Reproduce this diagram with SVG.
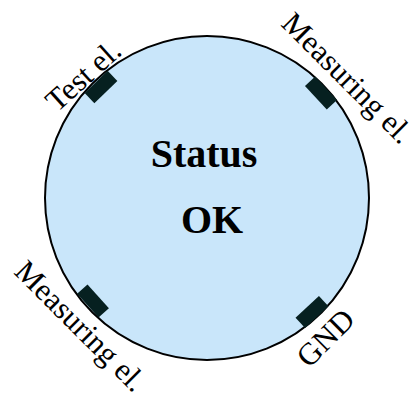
<svg xmlns="http://www.w3.org/2000/svg" width="419" height="398" viewBox="0 0 419 398">
<style>
.lbl{font-family:"Liberation Serif","Times New Roman",serif;font-size:31px;fill:#000}
.big{font-family:"Liberation Serif","Times New Roman",serif;font-size:40px;font-weight:bold;fill:#000;text-anchor:middle}
.el{fill:#062020}
</style>
<rect width="419" height="398" fill="#ffffff"/>
<g id="disc">
<circle cx="207" cy="198" r="162" fill="#c9e6fa" stroke="#000" stroke-width="2"/>
<text class="big" x="204" y="167">Status</text>
<text class="big" x="212" y="233">OK</text>
</g>
<g id="test-el">
<rect class="el" x="-16" y="-7" width="32" height="14" transform="translate(101,87) rotate(-44)"/>
<text class="lbl" transform="translate(57,113) rotate(-42)">Test el.</text>
</g>
<g id="measuring-el-top">
<rect class="el" x="-16" y="-7" width="32" height="14" transform="translate(321,93) rotate(47)"/>
<text class="lbl" transform="translate(280,25) rotate(45)">Measuring el.</text>
</g>
<g id="measuring-el-bottom">
<rect class="el" x="-16" y="-7" width="32" height="14" transform="translate(93,301) rotate(48)"/>
<text class="lbl" transform="translate(13,273) rotate(45)">Measuring el.</text>
</g>
<g id="gnd">
<rect class="el" x="-16" y="-7" width="32" height="14" transform="translate(312,312) rotate(-43)"/>
<text class="lbl" transform="translate(309,369) rotate(-45)">GND</text>
</g>
<g id="connectors"></g>
</svg>
